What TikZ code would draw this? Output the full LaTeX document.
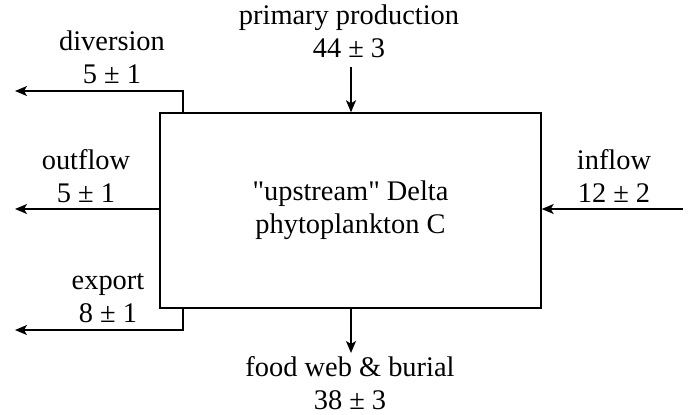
\documentclass[tikz,border=0pt]{standalone}
\usepackage{fontspec}
\setmainfont{Liberation Serif}[Ligatures=TeXOff]
\usepackage{tikz}
\usetikzlibrary{arrows.meta,positioning}
\tikzset{pool/.style={draw,minimum width=190.5pt,minimum height=97.5pt,inner sep=0pt,align=center,line width=0.7pt}}
\tikzset{flux/.style={align=center,inner sep=0pt}}
\tikzset{flow/.style={->,line width=0.7pt}}

\begin{document}
\begin{tikzpicture}[>={Stealth[length=6pt,width=5pt,inset=1.5pt]},x=0.5pt,y=-0.5pt,
    font=\fontsize{14.2}{16.5}\selectfont]
    \useasboundingbox (0,0) rectangle (691,414);

    \node[pool] (pool)at (350.5,210.5) {"upstream" Delta\\phytoplankton C};

    \node[flux] (prim)at (349,31) {primary production\\44 ± 3};
    \node[flux] (div)at (112,57) {diversion\\5 ± 1};
    \node[flux] (out)at (86,176) {outflow\\5 ± 1};
    \node[flux] (exp)at (108,298) {export\\8 ± 1};
    \node[flux] (inf)at (614,176) {inflow\\12 ± 2};
    \node[flux] (food)at (350,383) {food web \& burial\\38 ± 3};

    \coordinate (ptop)at (351,67);
    \coordinate (fend)at (351,353);
    \coordinate (dturn)at (183,91);
    \coordinate (dend)at (15,91);
    \coordinate (eturn)at (183,330);
    \coordinate (eend)at (15,330);
    \coordinate (oend)at (15,209);
    \coordinate (istart)at (683,209);

    \draw [flow] (ptop) -- (ptop |- pool.north);
    \draw [flow] (fend |- pool.south) -- (fend);
    \draw [flow] (dturn |- pool.north) -- (dturn) -- (dend);
    \draw [flow] (eturn |- pool.south) -- (eturn) -- (eend);
    \draw [flow] (pool.west |- oend) -- (oend);
    \draw [flow] (istart) -- (pool.east |- istart);
\end{tikzpicture}
\end{document}
